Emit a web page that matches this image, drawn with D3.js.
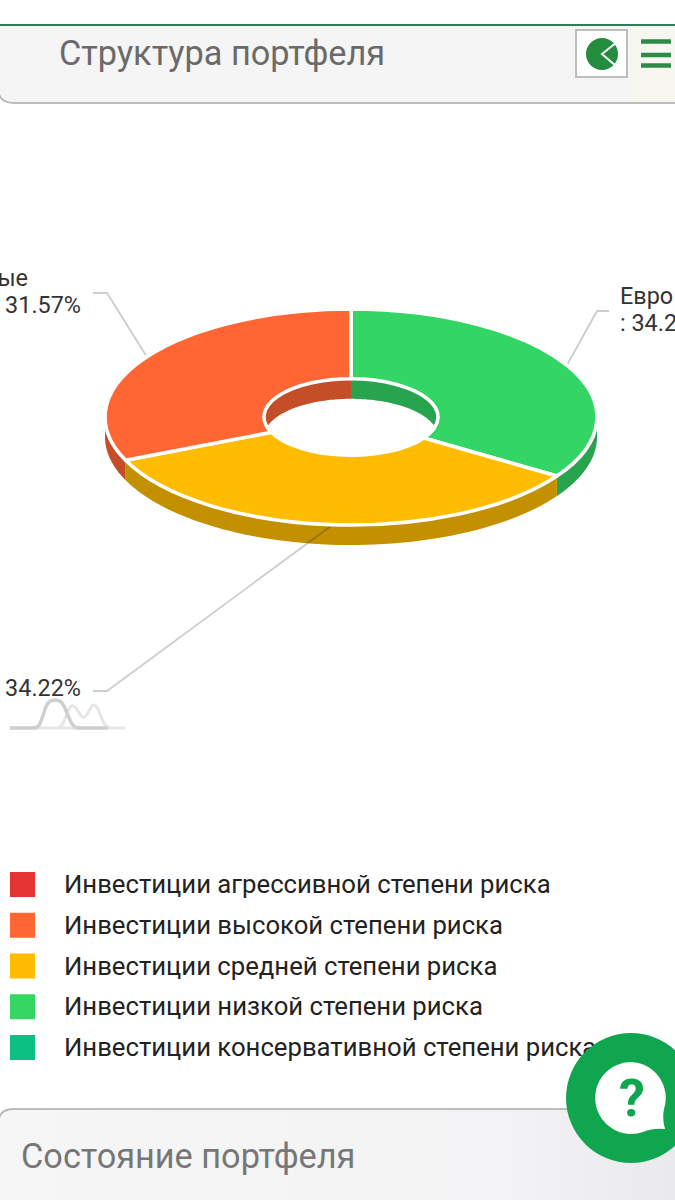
<!DOCTYPE html>
<html lang="ru">
<head>
<meta charset="utf-8">
<script src="https://cdn.jsdelivr.net/npm/d3@7"></script>
<style>
  html, body { margin: 0; padding: 0; background: #fff; overflow: hidden; }
  svg { display: block; font-family: Roboto, sans-serif; }
</style>
</head>
<body>
<svg id="chart" width="675" height="1200"></svg>
<script>
const legendLabels = [
  'Инвестиции агрессивной степени риска',
  'Инвестиции высокой степени риска',
  'Инвестиции средней степени риска',
  'Инвестиции низкой степени риска',
  'Инвестиции консервативной степени риска'
];
const legendColors = ['#e53232', '#ff6633', '#ffbc00', '#36d663', '#0cc084'];

// clockwise from 12 o'clock, as on the picture
const sliceValues = [34.22, 34.22, 31.57];
const sliceColors = ['#33d664', '#ffbc00', '#ff6633'];
const sliceLabels = [['Евро', ': 34.2'], ['34.22%'], ['ые', '31.57%']];

const svg = d3.select('#chart');
const cx = 351, cy = 417, rx = 246, rInner = 87, squash = 108 / 246, depth = 20;

// header
const header = svg.append('g');
header.append('path').attr('d', 'M-2,25H675V103H14Q-2,103 -2,88Z')
  .attr('fill', '#f5f5f5').attr('stroke', '#bdbdbd').attr('stroke-width', 2);
header.append('rect').attr('x', 632).attr('y', 26).attr('width', 43).attr('height', 76).attr('fill', '#f8f6f1');
header.append('rect').attr('x', -2).attr('y', 24).attr('width', 680).attr('height', 2).attr('fill', '#2f7d5b');
header.append('text').attr('x', 59).attr('y', 65).attr('font-size', 34.3).attr('fill', '#6a6a6a').text('Структура портфеля');
header.append('rect').attr('x', 576).attr('y', 30).attr('width', 51).attr('height', 47)
  .attr('fill', '#fff').attr('stroke', '#bdbdbd').attr('stroke-width', 2);
header.append('ellipse').attr('cx', 602).attr('cy', 54).attr('rx', 16).attr('ry', 16).attr('fill', '#238c3e');
header.append('path').attr('d', 'M617,42L602,54L616,66').attr('fill', 'none').attr('stroke', '#fff').attr('stroke-width', 2);
header.selectAll('.bar').data([41.5, 55, 65.5]).enter().append('rect').attr('class', 'bar')
  .attr('x', 641).attr('y', d => d - 2.25).attr('width', 30).attr('height', 4.5).attr('fill', '#2e8b45');

// donut
const pie = d3.pie().sort(null).startAngle(0).endAngle(2 * Math.PI);
const slices = pie(sliceValues);
const shade = c => d3.color(c).darker(0.75).formatHex();
const pt = (r, a, dy) => [cx + r * Math.sin(a), cy - r * Math.cos(a) * squash + dy];

function wall(r, a0, a1) {
  const from = Math.max(a0, r === rx ? Math.PI / 2 : -Math.PI / 2);
  const to = Math.min(a1, r === rx ? 3 * Math.PI / 2 : Math.PI / 2);
  if (to <= from) return null;
  const steps = d3.range(0, 61).map(i => from + (to - from) * i / 60);
  const pts = steps.map(a => pt(r, a, 0)).concat(steps.slice().reverse().map(a => pt(r, a, depth)));
  return d3.line()(pts) + 'Z';
}

const walls = svg.append('g');
slices.forEach((s, i) => {
  // inner wall shows through the hole on the far side
  const far = s.endAngle > Math.PI ? wall(rInner, s.startAngle - 2 * Math.PI, s.endAngle - 2 * Math.PI) : wall(rInner, s.startAngle, s.endAngle);
  [wall(rx, s.startAngle, s.endAngle), far].forEach(d => {
    if (d) walls.append('path').attr('d', d).attr('fill', shade(sliceColors[i]));
  });
});

const leaders = [
  [[567, 365], [597, 311], [609, 311]],
  [[331, 526], [107, 691], [93, 691]],
  [[147, 357], [107, 293], [93, 293]]
];
svg.append('g').selectAll('path').data(leaders).enter().append('path')
  .attr('d', d3.line()).attr('fill', 'none').attr('stroke', '#000').attr('stroke-opacity', 0.2).attr('stroke-width', 1.8);

const arc = d3.arc().innerRadius(rInner).outerRadius(rx);
svg.append('g').attr('transform', `translate(${cx},${cy}) scale(1,${squash})`)
  .selectAll('path').data(slices).enter().append('path')
  .attr('d', arc)
  .attr('fill', (d, i) => sliceColors[i])
  .attr('stroke', '#fff').attr('stroke-width', 3.6).attr('stroke-linejoin', 'round')
  .attr('vector-effect', 'non-scaling-stroke');

// labels, the window cuts them off on the phone screen
const labelPos = [
  { x: 620, y: 304, anchor: 'start' },
  { x: 81, y: 696, anchor: 'end' },
  { x: 81, y: 313, anchor: 'end' }
];
sliceLabels.forEach((lines, i) => {
  const p = labelPos[i];
  lines.forEach((line, j) => {
    const offset = j - (i === 2 ? 1 : 0);
    const isStub = i === 2 && j === 0;
    svg.append('text')
      .attr('x', isStub ? 28 : p.x).attr('y', p.y + offset * 27)
      .attr('text-anchor', p.anchor).attr('font-size', 23.4).attr('fill', '#333').text(line);
  });
});

// loader squiggle under the lower label
const wave = d3.line().curve(d3.curveBasis);
svg.append('rect').attr('x', 10).attr('y', 726.5).attr('width', 115).attr('height', 3).attr('fill', '#e6e6e6');
svg.append('path').attr('d', wave([[58, 728], [63, 726], [69, 706], [75, 704], [84, 724], [91, 704], [97, 704], [104, 726], [110, 728]]))
  .attr('fill', 'none').attr('stroke', '#e6e6e6').attr('stroke-width', 3);
svg.append('path').attr('d', wave([[10, 728], [33, 728], [40, 728], [46, 703], [52, 700], [58, 700], [64, 703], [72, 728], [80, 728], [108, 728]]))
  .attr('fill', 'none').attr('stroke', '#cfcfcf').attr('stroke-width', 3.5);

// legend
const legendY = d3.scalePoint().domain(legendLabels).range([885, 1048]);
const legend = svg.append('g').selectAll('g').data(legendLabels).enter().append('g')
  .attr('transform', d => `translate(0,${legendY(d)})`);
legend.append('rect').attr('x', 10).attr('y', -13).attr('width', 25).attr('height', 25).attr('fill', (d, i) => legendColors[i]);
legend.append('text').attr('x', 64).attr('y', 8).attr('font-size', 25.7).attr('fill', '#222').text(d => d);

// bottom panel
const defs = svg.append('defs');
const grad = defs.append('linearGradient').attr('id', 'panel');
grad.append('stop').attr('offset', '0%').attr('stop-color', '#f6f6f6');
grad.append('stop').attr('offset', '75%').attr('stop-color', '#f3f3f5');
grad.append('stop').attr('offset', '100%').attr('stop-color', '#e9e9ee');
svg.append('path').attr('d', 'M-2,1124Q-2,1109 14,1109H680V1210H-2Z')
  .attr('fill', 'url(#panel)').attr('stroke', '#bdbdbd').attr('stroke-width', 2);
svg.append('text').attr('x', 21).attr('y', 1168).attr('font-size', 34.3).attr('fill', '#777').text('Состояние портфеля');

// help button
svg.append('circle').attr('cx', 631).attr('cy', 1098).attr('r', 65).attr('fill', '#10a650');
svg.append('path').attr('d', 'M631,1062a36,36 0 1 0 12,70q10,-4 22,-3q-3,-10 -1,-20a36,36 0 0 0 -33,-47Z').attr('fill', '#fff');
svg.append('text').attr('x', 632).attr('y', 1116).attr('text-anchor', 'middle').attr('font-size', 52)
  .attr('font-weight', 700).attr('fill', '#10a650').text('?');
</script>
</body>
</html>
